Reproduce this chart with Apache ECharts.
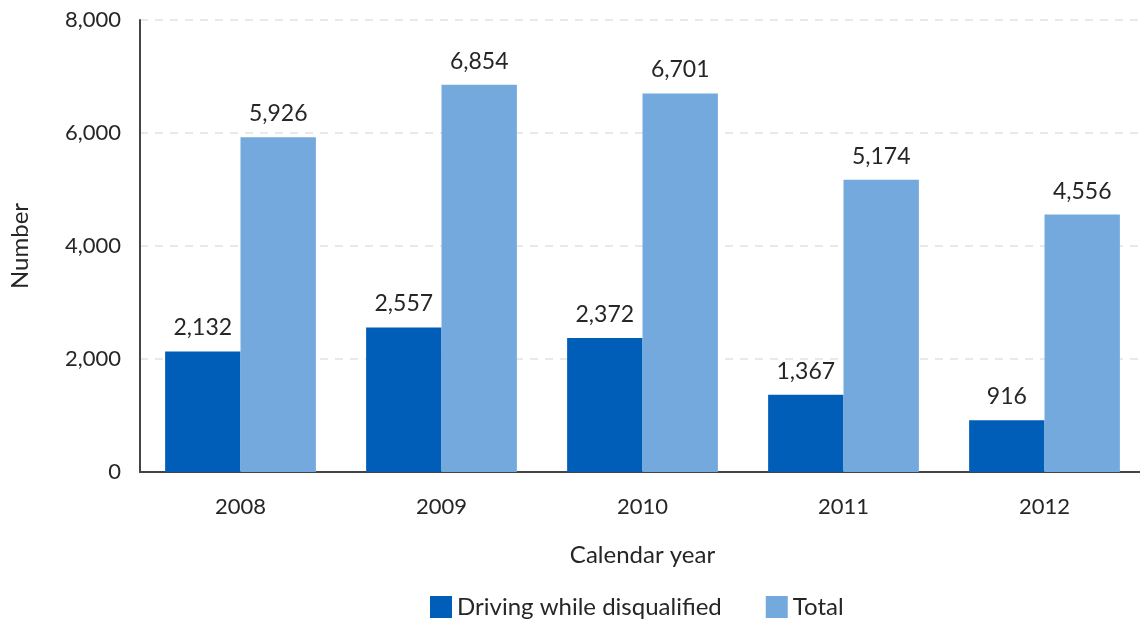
<!DOCTYPE html>
<html>
<head>
<meta charset="utf-8">
<style>
  html, body { margin: 0; padding: 0; background: #fff; overflow: hidden; }
  #chart { width: 1145px; height: 624px; }
</style>
<script src="https://cdn.jsdelivr.net/npm/echarts@6/dist/echarts.min.js"></script>
</head>
<body>
<div id="chart"></div>
<script>
// Calendar years on the category axis
const years = ['2008', '2009', '2010', '2011', '2012'];
// Offences: driving while disqualified
const disqualified = [2132, 2557, 2372, 1367, 916];
// Offences: total
const total = [5926, 6854, 6701, 5174, 4556];

const FONT = 'Lato, "Noto Sans", sans-serif';
const TEXT = '#262626';

const chart = echarts.init(document.getElementById('chart'));

const barLabel = {
  show: true,
  position: 'top',
  distance: 12,
  fontFamily: FONT,
  fontSize: 23,
  color: TEXT,
  formatter: p => p.value.toLocaleString('en-US')
};

chart.setOption({
  animation: false,
  backgroundColor: '#ffffff',
  // plot area runs slightly past the visible right edge
  grid: { left: 140, right: 0, top: 20, bottom: 152, containLabel: false },
  legend: {
    bottom: 0,
    left: 425,
    itemWidth: 22,
    itemHeight: 22,
    itemGap: 44,
    icon: 'rect',
    textStyle: { fontFamily: FONT, fontSize: 24, color: TEXT, padding: [0, 0, 0, 0] },
    data: ['Driving while disqualified', 'Total']
  },
  xAxis: {
    type: 'category',
    data: years,
    name: 'Calendar year',
    nameLocation: 'middle',
    nameGap: 71,
    nameTextStyle: { fontFamily: FONT, fontSize: 24, color: TEXT },
    axisLine: { lineStyle: { color: '#444', width: 2 } },
    axisTick: { show: false },
    axisLabel: { fontFamily: FONT, fontSize: 22, color: TEXT, margin: 24 }
  },
  yAxis: {
    type: 'value',
    min: 0,
    max: 8000,
    interval: 2000,
    name: 'Number',
    nameLocation: 'middle',
    nameGap: 108,
    nameTextStyle: { fontFamily: FONT, fontSize: 24, color: TEXT },
    axisLine: { show: true, lineStyle: { color: '#444', width: 2 } },
    axisTick: { show: false },
    axisLabel: {
      fontFamily: FONT, fontSize: 22, color: TEXT, margin: 19,
      formatter: v => v.toLocaleString('en-US')
    },
    splitLine: { lineStyle: { color: '#e2e2e2', type: [8, 7], width: 1.5 } }
  },
  series: [
    {
      name: 'Driving while disqualified',
      type: 'bar',
      data: disqualified,
      barGap: '0%',
      barCategoryGap: '25%',
      itemStyle: { color: '#005EB8' },
      label: barLabel
    },
    {
      name: 'Total',
      type: 'bar',
      data: total,
      barGap: '0%',
      barCategoryGap: '25%',
      itemStyle: { color: '#74A9DD' },
      label: barLabel
    }
  ]
});
</script>
</body>
</html>
